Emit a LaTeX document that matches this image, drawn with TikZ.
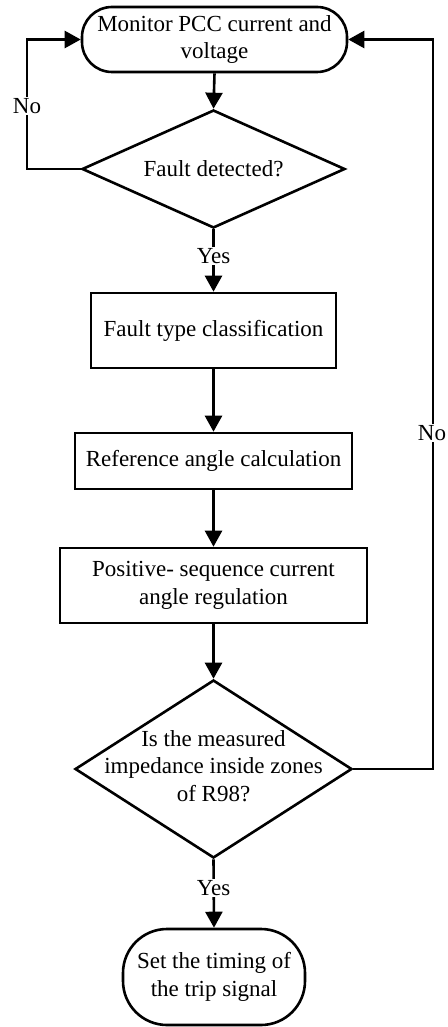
\documentclass[tikz,border=0pt]{standalone}
\usepackage{fontspec}
\setmainfont{Liberation Serif}
\usetikzlibrary{shapes.geometric,arrows.meta}
\begin{document}
\begin{tikzpicture}[x=1pt,y=-1pt,
  every node/.style={font=\fontsize{23}{27.5}\selectfont, text=black},
  flow/.style={line width=2.6pt, draw=black},
  arr/.style={flow, -{Triangle[width=17pt,length=16pt]}},
  procbox/.style={draw=black, line width=2.6pt, rectangle, align=center, inner sep=0pt},
  termbox/.style={draw=black, line width=2.6pt, rectangle, align=center, inner sep=0pt},
  decbox/.style={draw=black, line width=2.6pt, diamond, inner sep=0pt},
  lbl/.style={fill=white, inner sep=1.5pt}
]
\useasboundingbox (0,0) rectangle (447,1027);
\fill[white] (0,0) rectangle (447,1027);

\node[termbox, rounded corners=30pt, minimum width=265pt, minimum height=65pt] (top) at (214.5,39.5) {Monitor PCC current and\\voltage};
\node[decbox, minimum width=263pt, minimum height=118pt] (d1) at (213.5,169) {};
\node (d1t) at (d1.center) {Fault detected?};
\node[procbox, minimum width=245pt, minimum height=75pt] (fault) at (213.5,330.5) {Fault type classification};
\node[procbox, minimum width=277pt, minimum height=56pt] (ref) at (213.5,461) {Reference angle calculation};
\node[procbox, minimum width=307pt, minimum height=75pt] (pos) at (213.5,585.5) {Positive- sequence current\\angle regulation};
\node[decbox, minimum width=277pt, minimum height=178pt] (d2) at (213.5,769) {};
\node[align=center] (d2t) at ([yshift=3pt]d2.center) {Is the measured\\impedance inside zones\\of R98?};
\node[termbox, rounded corners=44pt, minimum width=182pt, minimum height=96pt] (trip) at (214,977) {Set the timing of\\the trip signal};

\coordinate (lx) at (27,39.5);
\coordinate (rx) at (433,39.5);

\draw[arr] (top.south) -- (d1.north);
\draw[arr] (d1.west) -| (lx) -- (top.west);
\draw[arr] (d1.south) -- (fault.north);
\draw[arr] (fault.south) -- (ref.north);
\draw[arr] (ref.south) -- (pos.north);
\draw[arr] (pos.south) -- (d2.north);
\draw[arr] (d2.east) -| (rx) -- (top.east);
\draw[arr] (d2.south) -- (trip.north);

\node[lbl] (no1) at (27,106) {No};
\node[lbl] (yes1) at (213.5,256) {Yes};
\node[lbl] (no2) at (432,433) {No};
\node[lbl] (yes2) at (213.5,888) {Yes};
\end{tikzpicture}
\end{document}
